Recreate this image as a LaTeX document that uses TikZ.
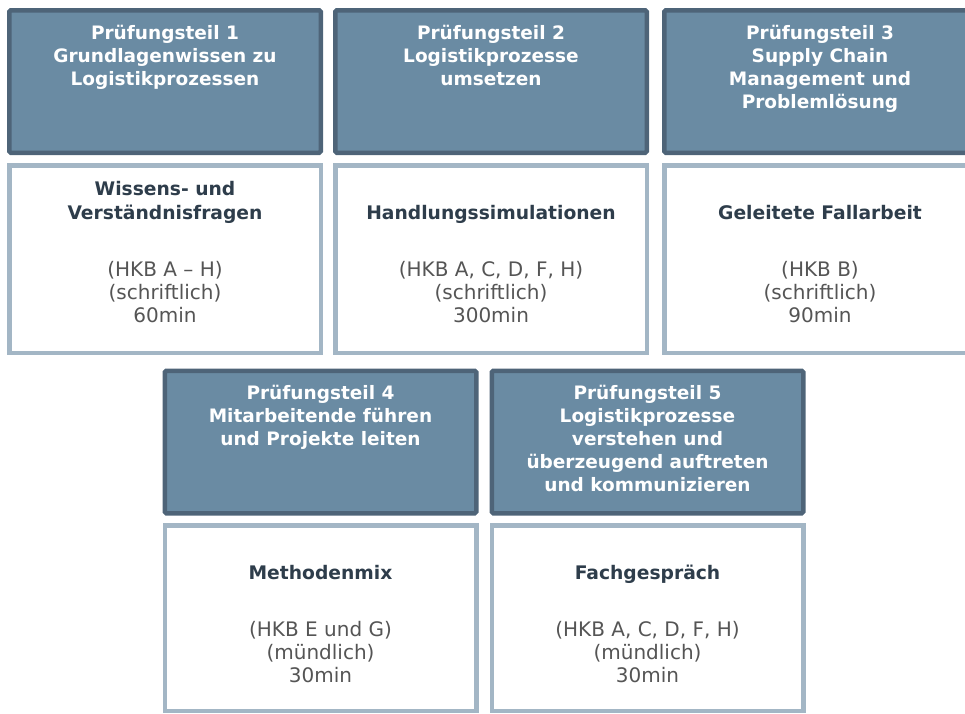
\documentclass[tikz,border=0pt]{standalone}
\usepackage{fontspec}
\setmainfont{DejaVu Sans}
\usetikzlibrary{positioning}

\definecolor{headfill}{HTML}{6A8BA3}
\definecolor{headline}{HTML}{4E6478}
\definecolor{bodyline}{HTML}{A3B6C5}
\definecolor{titlecol}{HTML}{2E3D4B}
\definecolor{infocol}{HTML}{555555}

\begin{document}
\begin{tikzpicture}[x=1pt,y=-1pt,
  head/.style={draw=headline,fill=headfill,line width=4.5pt,rounded corners=1.5pt,minimum width=311.5pt,minimum height=142.5pt},
  body/.style={draw=bodyline,fill=white,line width=4.5pt,minimum width=311.5pt,minimum height=187.5pt},
  headtext/.style={align=center,text=white,inner sep=0pt,font=\bfseries\fontsize{18.5}{23}\selectfont},
  titletext/.style={align=center,text=titlecol,inner sep=0pt,text depth=5pt,font=\bfseries\fontsize{18.7}{24}\selectfont},
  infotext/.style={align=center,text=infocol,inner sep=0pt,font=\fontsize{20}{23}\selectfont}]

\useasboundingbox (0,0) rectangle (965,713);

% first row
\node[head] (h1) at (165,81.5) {};
\node[head] (h2) at (491,81.5) {};
\node[head] (h3) at (820,81.5) {};
\node[body] (b1) at (165,259) {};
\node[body] (b2) at (491,259) {};
\node[body] (b3) at (820,259) {};

% second row
\node[head] (h4) at (320.5,442) {};
\node[head] (h5) at (647.5,442) {};
\node[body,minimum height=185.5pt] (b4) at (320.5,618) {};
\node[body,minimum height=185.5pt] (b5) at (647.5,618) {};

% headings
\node[headtext,below=16.5pt of h1.north] (h1t) {Prüfungsteil 1\\Grundlagenwissen zu\\Logistikprozessen};
\node[headtext,below=16.5pt of h2.north] (h2t) {Prüfungsteil 2\\Logistikprozesse\\umsetzen};
\node[headtext,below=16.5pt of h3.north] (h3t) {Prüfungsteil 3\\Supply Chain\\Management und\\Problemlösung};
\node[headtext,below=16.5pt of h4.north] (h4t) {Prüfungsteil 4\\Mitarbeitende führen\\und Projekte leiten};
\node[headtext,below=16.5pt of h5.north] (h5t) {Prüfungsteil 5\\Logistikprozesse\\verstehen und\\überzeugend auftreten\\und kommunizieren};

% exam forms
\node[titletext,anchor=south] (b1t) at ([yshift=-61.5pt]b1.north) {Wissens- und\\Verständnisfragen};
\node[titletext,anchor=south] (b2t) at ([yshift=-61.5pt]b2.north) {Handlungssimulationen};
\node[titletext,anchor=south] (b3t) at ([yshift=-61.5pt]b3.north) {Geleitete Fallarbeit};
\node[titletext,anchor=south] (b4t) at ([yshift=-61.5pt]b4.north) {Methodenmix};
\node[titletext,anchor=south] (b5t) at ([yshift=-61.5pt]b5.north) {Fachgespräch};

\node[infotext,below=98.5pt of b1.north] (b1i) {(HKB A – H)\\(schriftlich)\\60min};
\node[infotext,below=98.5pt of b2.north] (b2i) {(HKB A, C, D, F, H)\\(schriftlich)\\300min};
\node[infotext,below=98.5pt of b3.north] (b3i) {(HKB B)\\(schriftlich)\\90min};
\node[infotext,below=98.5pt of b4.north] (b4i) {(HKB E und G)\\(mündlich)\\30min};
\node[infotext,below=98.5pt of b5.north] (b5i) {(HKB A, C, D, F, H)\\(mündlich)\\30min};
\end{tikzpicture}
\end{document}
